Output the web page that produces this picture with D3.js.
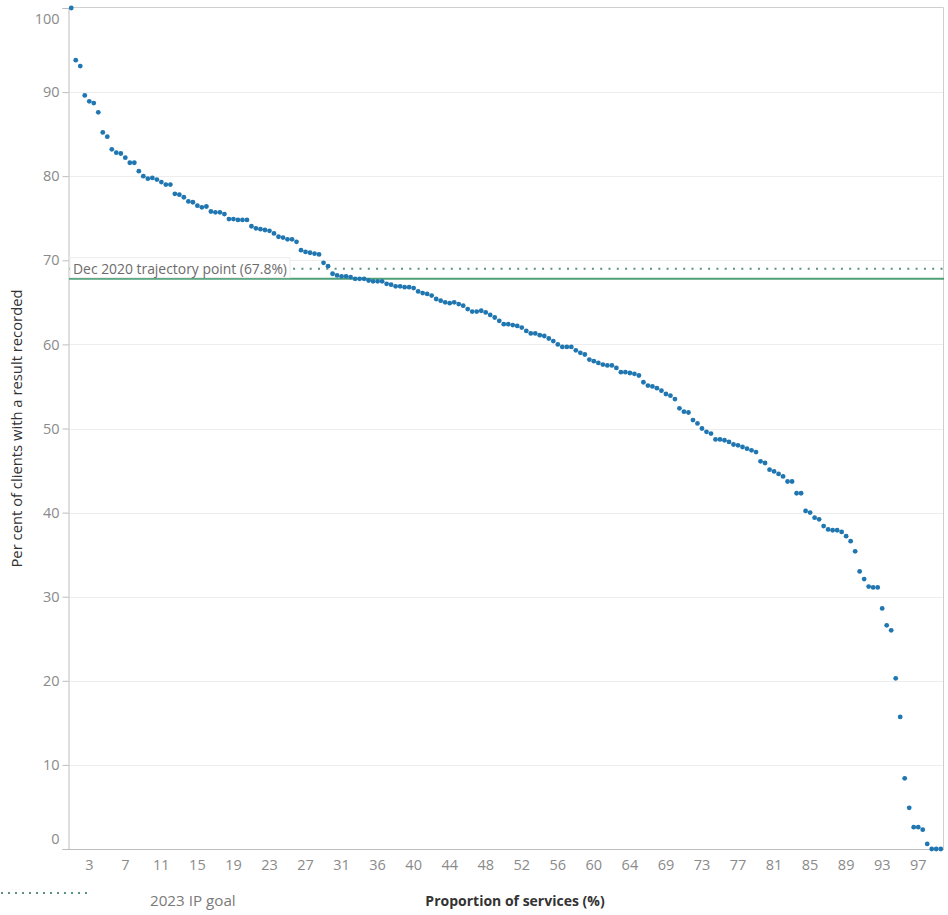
<!DOCTYPE html>
<html>
<head>
<meta charset="utf-8">
<script src="https://cdn.jsdelivr.net/npm/d3@7"></script>
<style>
  html, body { margin: 0; padding: 0; background: #fff; }
  svg { display: block; font-family: "Open Sans", "DejaVu Sans", sans-serif; }
</style>
</head>
<body>
<svg id="chart" width="948" height="915"></svg>
<script>
// ---- data ----
const resultPct = [
  100, 93.8, 93.1, 89.6, 88.9, 88.7, 87.6, 85.2, 84.7, 83.2,
  82.8, 82.7, 82.2, 81.6, 81.6, 80.6, 80.0, 79.7, 79.8, 79.6,
  79.3, 79.0, 79.0, 77.9, 77.8, 77.5, 77.0, 76.9, 76.5, 76.3,
  76.4, 75.8, 75.7, 75.7, 75.5, 74.9, 74.9, 74.8, 74.8, 74.8,
  74.05, 73.8, 73.7, 73.6, 73.5, 73.2, 72.8, 72.7, 72.5, 72.5,
  72.2, 71.2, 71.0, 70.9, 70.8, 70.7, 69.7, 69.3, 68.4, 68.2,
  68.1, 68.1, 68.0, 67.8, 67.8, 67.8, 67.6, 67.5, 67.5, 67.5,
  67.2, 67.1, 66.9, 66.9, 66.8, 66.8, 66.7, 66.3, 66.1, 66.0,
  65.8, 65.4, 65.2, 65.0, 64.9, 65.0, 64.8, 64.6, 64.2, 63.9,
  63.9, 64.0, 63.8, 63.5, 63.2, 62.8, 62.4, 62.4, 62.3, 62.2,
  62.0, 61.6, 61.3, 61.3, 61.1, 61.0, 60.7, 60.4, 60.0, 59.7,
  59.7, 59.7, 59.3, 59.0, 58.8, 58.2, 58.0, 57.8, 57.6, 57.5,
  57.5, 57.2, 56.7, 56.7, 56.6, 56.5, 56.3, 55.5, 55.1, 55.0,
  54.8, 54.5, 54.1, 53.9, 53.5, 52.4, 52.0, 51.9, 51.0, 50.6,
  50.0, 49.6, 49.4, 48.7, 48.7, 48.6, 48.4, 48.1, 48.0, 47.8,
  47.6, 47.4, 47.2, 46.1, 45.9, 45.1, 44.9, 44.6, 44.3, 43.7,
  43.7, 42.3, 42.3, 40.2, 40.0, 39.4, 39.2, 38.4, 38.0, 37.9,
  37.9, 37.7, 37.2, 36.6, 35.4, 33.0, 32.1, 31.2, 31.1, 31.1,
  28.6, 26.6, 26.0, 20.3, 15.7, 8.4, 4.9, 2.6, 2.6, 2.3,
  0.6, 0, 0, 0
];
// services, ordered by rank (one category per service)
const services = resultPct.map((_, i) => i + 1);
// x tick labels (shown every 8th service, starting with the 5th)
const xTickLabels = ["3","7","11","15","19","23","27","31","36","40","44","48",
                     "52","56","60","64","69","73","77","81","85","89","93","97"];
const yTickValues = [0, 10, 20, 30, 40, 50, 60, 70, 80, 90, 100];
const trajectoryPoint = 67.8;   // Dec 2020 trajectory point
const ipGoal2023 = 69;          // 2023 IP goal
const trajectoryLabel = "Dec 2020 trajectory point (67.8%)";
const goalLabel = "2023 IP goal";
const xTitle = "Proportion of services (%)";
const yTitle = "Per cent of clients with a result recorded";

// ---- layout ----
const plot = { left: 69, right: 944, top: 8, bottom: 849 };
const svg = d3.select("#chart");

const x = d3.scaleBand().domain(services).range([plot.left, plot.right - 1]).padding(0);
const y = d3.scaleLinear().domain([0, 100]).range([plot.bottom, plot.top]);
const cx = d => x(d) + x.bandwidth() / 2;

// gridlines
svg.append("g").selectAll("line")
  .data(yTickValues.filter(v => v > 0 && v < 100))
  .join("line")
  .attr("x1", plot.left).attr("x2", plot.right)
  .attr("y1", d => Math.round(y(d)) + 0.5).attr("y2", d => Math.round(y(d)) + 0.5)
  .attr("stroke", "#ededed").attr("stroke-width", 1);

// frame (top / right)
svg.append("path")
  .attr("d", `M${plot.left},${plot.top - 0.5}H${plot.right - 0.5}V${plot.bottom}`)
  .attr("fill", "none").attr("stroke", "#cfcfcf");

// y axis
const yAxis = svg.append("g")
  .attr("transform", `translate(${plot.left - 0.5},0)`)
  .call(d3.axisLeft(y).tickValues(yTickValues).tickSize(6).tickPadding(3).tickFormat(d3.format("d")));
yAxis.select(".domain").attr("stroke", "#bdbdbd");
yAxis.selectAll(".tick line").attr("stroke", "#bdbdbd");
yAxis.selectAll(".tick text")
  .attr("fill", "#8a8a8a").attr("font-size", 14.5)
  .attr("font-family", "'Open Sans', sans-serif")
  .attr("dy", d => d === 100 ? "1.05em" : d === 0 ? "-0.35em" : "0.32em");

// x axis (baseline + labels only)
const xTickDomain = xTickLabels.map((_, k) => services[4 + 8 * k]);
const xAxis = svg.append("g")
  .attr("transform", `translate(0,${plot.bottom + 0.5})`)
  .call(d3.axisBottom(x).tickValues(xTickDomain).tickSize(0).tickPadding(10)
        .tickFormat((d, k) => xTickLabels[k]));
xAxis.select(".domain").attr("stroke", "#bdbdbd").attr("d", `M${plot.left - 6},0H${plot.right}`);
xAxis.selectAll(".tick text")
  .attr("fill", "#8a8a8a").attr("font-size", 14.5)
  .attr("font-family", "'Open Sans', sans-serif");

// reference lines
svg.append("line")
  .attr("x1", plot.left).attr("x2", plot.right)
  .attr("y1", y(ipGoal2023)).attr("y2", y(ipGoal2023))
  .attr("stroke", "#5a947a").attr("stroke-width", 2).attr("stroke-dasharray", "2,6.3");
svg.append("line")
  .attr("x1", plot.left).attr("x2", plot.right)
  .attr("y1", y(trajectoryPoint)).attr("y2", y(trajectoryPoint))
  .attr("stroke", "#4fa077").attr("stroke-width", 2);

// annotation label with box
const lblY = (y(ipGoal2023) + y(trajectoryPoint)) / 2 - 5;
const lbl = svg.append("g");
const lblText = lbl.append("text")
  .attr("x", plot.left + 4).attr("y", lblY)
  .attr("dy", "0.35em")
  .attr("fill", "#6b6b6b").attr("font-size", 13.9)
  .attr("font-family", "'Open Sans', sans-serif")
  .text(trajectoryLabel);
const bb = lblText.node().getBBox();
lbl.insert("rect", "text")
  .attr("x", plot.left + 1).attr("y", bb.y - 1)
  .attr("width", bb.width + 6).attr("height", bb.height + 1)
  .attr("fill", "#fff").attr("stroke", "#ececec");

// points
svg.append("g").selectAll("circle")
  .data(services)
  .join("circle")
  .attr("cx", d => cx(d))
  .attr("cy", (d, i) => y(resultPct[i]))
  .attr("r", 2.4)
  .attr("fill", "#1f76b0");

// axis titles
svg.append("text")
  .attr("transform", `translate(22,${(plot.top + plot.bottom) / 2}) rotate(-90)`)
  .attr("text-anchor", "middle")
  .attr("fill", "#333").attr("font-size", 14.8)
  .text(yTitle);
svg.append("text")
  .attr("x", 515).attr("y", 906)
  .attr("text-anchor", "middle")
  .attr("fill", "#333").attr("font-size", 14).attr("font-weight", "bold")
  .text(xTitle);

// legend
svg.append("line")
  .attr("x1", 1).attr("x2", 90).attr("y1", 893).attr("y2", 893)
  .attr("stroke", "#5a947a").attr("stroke-width", 2).attr("stroke-dasharray", "2,5");
svg.append("text")
  .attr("x", 150).attr("y", 906)
  .attr("fill", "#7a7a7a").attr("font-size", 15.2)
  .text(goalLabel);
</script>
</body>
</html>
